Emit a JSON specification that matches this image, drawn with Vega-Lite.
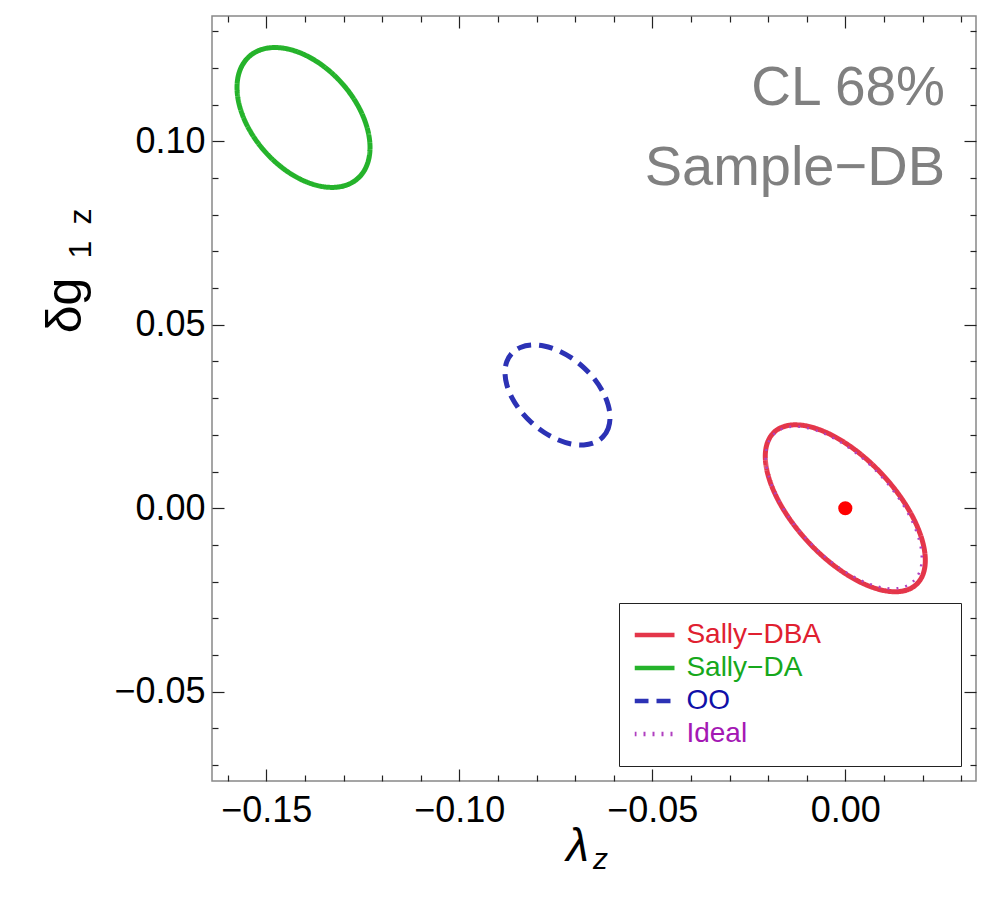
{
  "$schema": "https://vega.github.io/schema/vega-lite/v6.json",
  "width": 764,
  "height": 765,
  "autosize": {"type": "none"},
  "padding": {"left": 212, "top": 16, "right": 28, "bottom": 121},
  "background": "white",
  "config": {
    "view": {"stroke": "#888888", "strokeWidth": 1.5},
    "font": "Liberation Sans",
    "axis": {
      "grid": false, "domain": false,
      "labelFont": "Liberation Sans", "titleFont": "Liberation Sans",
      "tickColor": "#222222", "tickWidth": 1.2,
      "labelColor": "#000000", "labelFontSize": 36, "titleColor": "#000000",
      "titleFontWeight": "normal", "labelFlush": false, "labelOverlap": false
    }
  },
  "datasets": {
    "ellipses": [
      {"s": "Sally−DA", "i": 0, "x": -0.12313, "y": 0.09832},
      {"s": "Sally−DA", "i": 1, "x": -0.12372, "y": 0.09414},
      {"s": "Sally−DA", "i": 2, "x": -0.12544, "y": 0.09080},
      {"s": "Sally−DA", "i": 3, "x": -0.12818, "y": 0.08853},
      {"s": "Sally−DA", "i": 4, "x": -0.13175, "y": 0.08749},
      {"s": "Sally−DA", "i": 5, "x": -0.13590, "y": 0.08774},
      {"s": "Sally−DA", "i": 6, "x": -0.14036, "y": 0.08927},
      {"s": "Sally−DA", "i": 7, "x": -0.14482, "y": 0.09197},
      {"s": "Sally−DA", "i": 8, "x": -0.14897, "y": 0.09566},
      {"s": "Sally−DA", "i": 9, "x": -0.15254, "y": 0.10009},
      {"s": "Sally−DA", "i": 10, "x": -0.15528, "y": 0.10496},
      {"s": "Sally−DA", "i": 11, "x": -0.15700, "y": 0.10993},
      {"s": "Sally−DA", "i": 12, "x": -0.15759, "y": 0.11466},
      {"s": "Sally−DA", "i": 13, "x": -0.15700, "y": 0.11884},
      {"s": "Sally−DA", "i": 14, "x": -0.15528, "y": 0.12218},
      {"s": "Sally−DA", "i": 15, "x": -0.15254, "y": 0.12445},
      {"s": "Sally−DA", "i": 16, "x": -0.14897, "y": 0.12549},
      {"s": "Sally−DA", "i": 17, "x": -0.14482, "y": 0.12524},
      {"s": "Sally−DA", "i": 18, "x": -0.14036, "y": 0.12371},
      {"s": "Sally−DA", "i": 19, "x": -0.13590, "y": 0.12101},
      {"s": "Sally−DA", "i": 20, "x": -0.13175, "y": 0.11732},
      {"s": "Sally−DA", "i": 21, "x": -0.12818, "y": 0.11289},
      {"s": "Sally−DA", "i": 22, "x": -0.12544, "y": 0.10802},
      {"s": "Sally−DA", "i": 23, "x": -0.12372, "y": 0.10305},
      {"s": "OO", "i": 0, "x": -0.06096, "y": 0.02474},
      {"s": "OO", "i": 1, "x": -0.06142, "y": 0.02180},
      {"s": "OO", "i": 2, "x": -0.06278, "y": 0.01948},
      {"s": "OO", "i": 3, "x": -0.06494, "y": 0.01793},
      {"s": "OO", "i": 4, "x": -0.06776, "y": 0.01727},
      {"s": "OO", "i": 5, "x": -0.07104, "y": 0.01753},
      {"s": "OO", "i": 6, "x": -0.07456, "y": 0.01871},
      {"s": "OO", "i": 7, "x": -0.07808, "y": 0.02071},
      {"s": "OO", "i": 8, "x": -0.08136, "y": 0.02340},
      {"s": "OO", "i": 9, "x": -0.08418, "y": 0.02660},
      {"s": "OO", "i": 10, "x": -0.08634, "y": 0.03010},
      {"s": "OO", "i": 11, "x": -0.08770, "y": 0.03365},
      {"s": "OO", "i": 12, "x": -0.08816, "y": 0.03700},
      {"s": "OO", "i": 13, "x": -0.08770, "y": 0.03994},
      {"s": "OO", "i": 14, "x": -0.08634, "y": 0.04227},
      {"s": "OO", "i": 15, "x": -0.08418, "y": 0.04381},
      {"s": "OO", "i": 16, "x": -0.08136, "y": 0.04447},
      {"s": "OO", "i": 17, "x": -0.07808, "y": 0.04421},
      {"s": "OO", "i": 18, "x": -0.07456, "y": 0.04304},
      {"s": "OO", "i": 19, "x": -0.07104, "y": 0.04104},
      {"s": "OO", "i": 20, "x": -0.06776, "y": 0.03834},
      {"s": "OO", "i": 21, "x": -0.06494, "y": 0.03514},
      {"s": "OO", "i": 22, "x": -0.06278, "y": 0.03165},
      {"s": "OO", "i": 23, "x": -0.06142, "y": 0.02810},
      {"s": "Sally−DBA", "i": 0, "x": 0.02073, "y": -0.01417},
      {"s": "Sally−DBA", "i": 1, "x": 0.02002, "y": -0.01829},
      {"s": "Sally−DBA", "i": 2, "x": 0.01795, "y": -0.02117},
      {"s": "Sally−DBA", "i": 3, "x": 0.01466, "y": -0.02260},
      {"s": "Sally−DBA", "i": 4, "x": 0.01036, "y": -0.02249},
      {"s": "Sally−DBA", "i": 5, "x": 0.00536, "y": -0.02085},
      {"s": "Sally−DBA", "i": 6, "x": 0.0, "y": -0.01779},
      {"s": "Sally−DBA", "i": 7, "x": -0.00536, "y": -0.01352},
      {"s": "Sally−DBA", "i": 8, "x": -0.01036, "y": -0.00832},
      {"s": "Sally−DBA", "i": 9, "x": -0.01466, "y": -0.00256},
      {"s": "Sally−DBA", "i": 10, "x": -0.01795, "y": 0.00337},
      {"s": "Sally−DBA", "i": 11, "x": -0.02002, "y": 0.00908},
      {"s": "Sally−DBA", "i": 12, "x": -0.02073, "y": 0.01417},
      {"s": "Sally−DBA", "i": 13, "x": -0.02002, "y": 0.01829},
      {"s": "Sally−DBA", "i": 14, "x": -0.01795, "y": 0.02117},
      {"s": "Sally−DBA", "i": 15, "x": -0.01466, "y": 0.02260},
      {"s": "Sally−DBA", "i": 16, "x": -0.01036, "y": 0.02249},
      {"s": "Sally−DBA", "i": 17, "x": -0.00536, "y": 0.02085},
      {"s": "Sally−DBA", "i": 18, "x": 0.0, "y": 0.01779},
      {"s": "Sally−DBA", "i": 19, "x": 0.00536, "y": 0.01352},
      {"s": "Sally−DBA", "i": 20, "x": 0.01036, "y": 0.00832},
      {"s": "Sally−DBA", "i": 21, "x": 0.01466, "y": 0.00256},
      {"s": "Sally−DBA", "i": 22, "x": 0.01795, "y": -0.00337},
      {"s": "Sally−DBA", "i": 23, "x": 0.02002, "y": -0.00908},
      {"s": "Ideal", "i": 0, "x": 0.01981, "y": -0.01356},
      {"s": "Ideal", "i": 1, "x": 0.01912, "y": -0.01756},
      {"s": "Ideal", "i": 2, "x": 0.01710, "y": -0.02034},
      {"s": "Ideal", "i": 3, "x": 0.01389, "y": -0.02173},
      {"s": "Ideal", "i": 4, "x": 0.00970, "y": -0.02162},
      {"s": "Ideal", "i": 5, "x": 0.00483, "y": -0.02002},
      {"s": "Ideal", "i": 6, "x": -0.00040, "y": -0.01705},
      {"s": "Ideal", "i": 7, "x": -0.00563, "y": -0.01290},
      {"s": "Ideal", "i": 8, "x": -0.01050, "y": -0.00786},
      {"s": "Ideal", "i": 9, "x": -0.01469, "y": -0.00227},
      {"s": "Ideal", "i": 10, "x": -0.01790, "y": 0.00349},
      {"s": "Ideal", "i": 11, "x": -0.01992, "y": 0.00903},
      {"s": "Ideal", "i": 12, "x": -0.02061, "y": 0.01396},
      {"s": "Ideal", "i": 13, "x": -0.01992, "y": 0.01796},
      {"s": "Ideal", "i": 14, "x": -0.01790, "y": 0.02074},
      {"s": "Ideal", "i": 15, "x": -0.01469, "y": 0.02213},
      {"s": "Ideal", "i": 16, "x": -0.01050, "y": 0.02202},
      {"s": "Ideal", "i": 17, "x": -0.00563, "y": 0.02042},
      {"s": "Ideal", "i": 18, "x": -0.00040, "y": 0.01745},
      {"s": "Ideal", "i": 19, "x": 0.00483, "y": 0.01330},
      {"s": "Ideal", "i": 20, "x": 0.00970, "y": 0.00826},
      {"s": "Ideal", "i": 21, "x": 0.01389, "y": 0.00267},
      {"s": "Ideal", "i": 22, "x": 0.01710, "y": -0.00309},
      {"s": "Ideal", "i": 23, "x": 0.01912, "y": -0.00863}
    ],
    "center": [{"x": 0.0, "y": 0.0}],
    "notes": [
      {"x": 0.02583, "y": 0.10989, "t": "CL 68%"},
      {"x": 0.02583, "y": 0.08809, "t": "Sample−DB"}
    ]
  },
  "resolve": {"axis": {"x": "independent", "y": "independent"}},
  "layer": [
    {
      "data": {"name": "ellipses"},
      "mark": {"type": "line", "interpolate": "cardinal-closed"},
      "encoding": {
        "x": {
          "field": "x", "type": "quantitative",
          "scale": {"domain": [-0.16407, 0.03386], "nice": false, "zero": false},
          "axis": {
            "orient": "bottom", "values": [-0.15, -0.1, -0.05, 0], "format": ".2f",
            "tickSize": -12, "labelPadding": 24,
            "title": "λ", "titleFontSize": 46, "titleFontStyle": "italic",
            "titleX": 365, "titleY": 79, "titleAlign": "center", "titleBaseline": "alphabetic"
          }
        },
        "y": {
          "field": "y", "type": "quantitative",
          "scale": {"domain": [-0.07431, 0.13414], "nice": false, "zero": false},
          "axis": {
            "orient": "left", "values": [-0.05, 0, 0.05, 0.1], "format": ".2f",
            "tickSize": -12, "labelPadding": 19,
            "title": "δg", "titleFontSize": 50, "titleAngle": -90,
            "titleX": -132, "titleY": 289, "titleAlign": "center", "titleBaseline": "alphabetic"
          }
        },
        "color": {
          "field": "s", "type": "nominal",
          "scale": {"domain": ["Sally−DBA", "Sally−DA", "OO", "Ideal"], "range": ["#e4364a", "#25b32b", "#2c32b5", "#b040c0"]},
          "legend": {
            "orient": "none", "legendX": 407, "legendY": 587, "title": null,
            "symbolType": "stroke", "symbolSize": 1600, "symbolStrokeWidth": 4.5, "symbolOffset": -2.5,
            "labelFont": "Liberation Sans", "labelFontSize": 28, "labelOffset": 9.4, "labelLimit": 500,
            "clipHeight": 33, "rowPadding": 0, "padding": 15.5, "strokeColor": "#222222", "fillColor": "#ffffff",
            "labelExpr": "datum.label + '\u00a0\u00a0\u00a0\u00a0\u00a0\u00a0\u00a0\u00a0\u00a0\u00a0\u00a0\u00a0\u00a0\u00a0\u00a0\u00a0\u200b'",
            "labelColor": {"expr": "indexof(datum.value, 'DBA') >= 0 ? '#e02030' : indexof(datum.value, 'DA') >= 0 ? '#16a81c' : datum.value == 'OO' ? '#1010a8' : '#a418b4'"}
          }
        },
        "strokeDash": {
          "field": "s", "type": "nominal",
          "scale": {"domain": ["Sally−DBA", "Sally−DA", "OO", "Ideal"], "range": [[1, 0], [1, 0], [14, 8], [2, 7]]},
          "legend": {
            "orient": "none", "legendX": 407, "legendY": 587, "title": null,
            "symbolType": "stroke", "symbolSize": 1600, "symbolStrokeWidth": 4.5, "symbolOffset": -2.5,
            "labelFont": "Liberation Sans", "labelFontSize": 28, "labelOffset": 9.4, "labelLimit": 500,
            "clipHeight": 33, "rowPadding": 0, "padding": 15.5, "strokeColor": "#222222", "fillColor": "#ffffff"
          }
        },
        "strokeWidth": {"condition": {"test": "datum.s === 'Ideal'", "value": 2.5}, "value": 5},
        "order": {"field": "i", "type": "quantitative"}
      }
    },
    {
      "data": {"name": "center"},
      "mark": {"type": "point", "filled": true, "color": "#ff0000", "size": 200, "opacity": 1},
      "encoding": {
        "x": {
          "field": "x", "type": "quantitative",
          "axis": {
            "orient": "bottom", "labels": false, "tickSize": -6,
            "values": [-0.16, -0.14, -0.13, -0.12, -0.11, -0.09, -0.08, -0.07, -0.06, -0.04, -0.03, -0.02, -0.01, 0.01, 0.02, 0.03],
            "title": "z", "titleFontSize": 30, "titleFontStyle": "italic",
            "titleX": 388, "titleY": 87, "titleAlign": "center", "titleBaseline": "alphabetic"
          }
        },
        "y": {
          "field": "y", "type": "quantitative",
          "axis": {
            "orient": "left", "labels": false, "tickSize": -6,
            "values": [-0.07, -0.06, -0.04, -0.03, -0.02, -0.01, 0.01, 0.02, 0.03, 0.04, 0.06, 0.07, 0.08, 0.09, 0.11, 0.12, 0.13],
            "title": "1\u2002z", "titleFontSize": 32, "titleAngle": -90,
            "titleX": -122, "titleY": 217, "titleAlign": "center", "titleBaseline": "alphabetic"
          }
        }
      }
    },
    {
      "data": {"name": "notes"},
      "transform": [{"filter": "datum.t == 'CL 68%'"}],
      "mark": {"type": "text", "align": "right", "baseline": "alphabetic", "fontSize": 55, "color": "#808080", "font": "Liberation Sans"},
      "encoding": {
        "x": {"field": "x", "type": "quantitative", "axis": {"orient": "top", "labels": false, "tickSize": -12, "values": [-0.15, -0.1, -0.05, 0], "title": null}},
        "y": {"field": "y", "type": "quantitative", "axis": {"orient": "right", "labels": false, "tickSize": -12, "values": [-0.05, 0, 0.05, 0.1], "title": null}},
        "text": {"field": "t"}
      }
    },
    {
      "data": {"name": "notes"},
      "transform": [{"filter": "datum.t != 'CL 68%'"}],
      "mark": {"type": "text", "align": "right", "baseline": "alphabetic", "fontSize": 56, "color": "#808080", "font": "Liberation Sans"},
      "encoding": {
        "x": {"field": "x", "type": "quantitative", "axis": {"orient": "top", "labels": false, "tickSize": -6, "values": [-0.16, -0.14, -0.13, -0.12, -0.11, -0.09, -0.08, -0.07, -0.06, -0.04, -0.03, -0.02, -0.01, 0.01, 0.02, 0.03], "title": null}},
        "y": {"field": "y", "type": "quantitative", "axis": {"orient": "right", "labels": false, "tickSize": -6, "values": [-0.07, -0.06, -0.04, -0.03, -0.02, -0.01, 0.01, 0.02, 0.03, 0.04, 0.06, 0.07, 0.08, 0.09, 0.11, 0.12, 0.13], "title": null}},
        "text": {"field": "t"}
      }
    }
  ]
}
